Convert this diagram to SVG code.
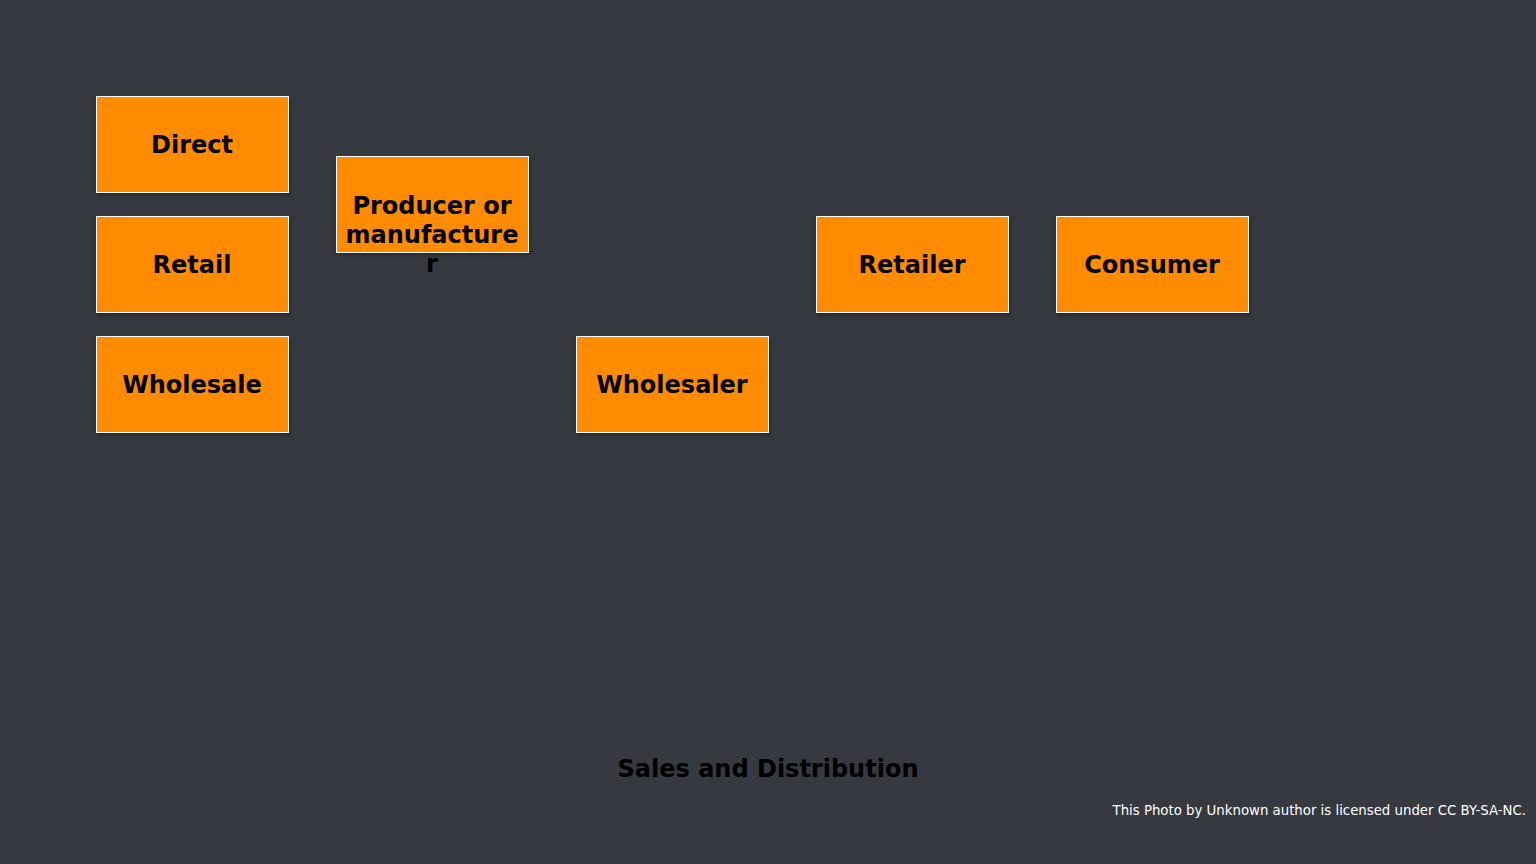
<svg xmlns="http://www.w3.org/2000/svg" width="1536" height="864" viewBox="0 0 1536 864">
<defs>
<filter id="sh" x="-10%" y="-10%" width="130%" height="130%"><feDropShadow dx="1" dy="2" stdDeviation="2" flood-color="#000" flood-opacity="0.35"/></filter>
</defs>
<style>
.box{fill:#ff8c00;stroke:#ffffff;stroke-width:1;filter:url(#sh)}
.lbl{font-family:"DejaVu Sans",sans-serif;font-weight:bold;font-size:24px;fill:#000;text-anchor:middle}
.cr{font-family:"DejaVu Sans",sans-serif;font-size:13.3px;fill:#ffffff;text-anchor:end}
</style>
<rect width="1536" height="864" fill="#363940"/>
<g id="direct"><rect class="box" x="96.5" y="96.5" width="192" height="96"/><text class="lbl" x="192" y="153">Direct</text></g>
<g id="retail"><rect class="box" x="96.5" y="216.5" width="192" height="96"/><text class="lbl" x="192" y="273">Retail</text></g>
<g id="wholesale"><rect class="box" x="96.5" y="336.5" width="192" height="96"/><text class="lbl" x="192" y="393">Wholesale</text></g>
<g id="producer"><rect class="box" x="336.5" y="156.5" width="192" height="96"/><text class="lbl" x="432" y="214">Producer or</text><text class="lbl" x="432" y="242.5">manufacture</text><text class="lbl" x="432" y="271.5">r</text></g>
<g id="wholesaler"><rect class="box" x="576.5" y="336.5" width="192" height="96"/><text class="lbl" x="672" y="393">Wholesaler</text></g>
<g id="retailer"><rect class="box" x="816.5" y="216.5" width="192" height="96"/><text class="lbl" x="912" y="273">Retailer</text></g>
<g id="consumer"><rect class="box" x="1056.5" y="216.5" width="192" height="96"/><text class="lbl" x="1152" y="273">Consumer</text></g>
<g id="connectors"></g>
<text class="lbl" x="768" y="777" fill="#000">Sales and Distribution</text>
<text class="cr" x="1526" y="815">This Photo by Unknown author is licensed under CC BY-SA-NC.</text>
</svg>
